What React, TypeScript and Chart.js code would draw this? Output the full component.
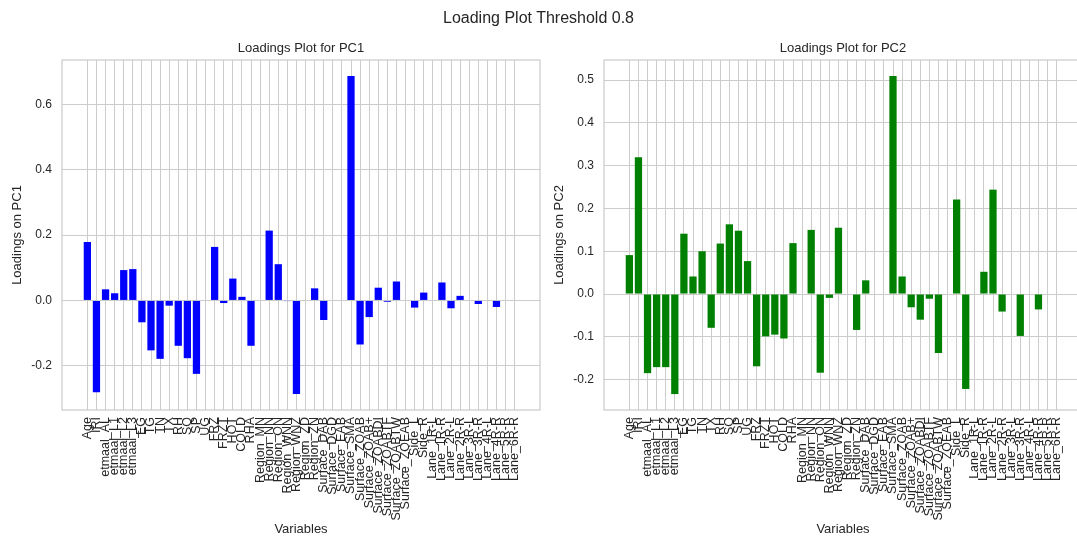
import React, { useEffect, useRef } from "react";
import { Chart, registerables } from "chart.js";

Chart.register(...registerables);

const VARIABLES: string[] = [
  "Age", "IRI", "etmaal_AL", "etmaal_L1", "etmaal_L2", "etmaal_L3",
  "EG", "TG", "TN", "TX", "RH", "SQ", "SP", "UG", "FRZ", "FRZT", "HOT", "COLD", "RHA",
  "Region_MN", "Region_NN", "Region_ON", "Region_WNN", "Region_WNZ", "Region_ZD", "Region_ZN",
  "Surface_DAB", "Surface_DGD", "Surface_EAB", "Surface_SMA", "Surface_ZOAB", "Surface_ZOAB+",
  "Surface_ZOABDI", "Surface_ZOABTF", "Surface_ZOABTW", "Surface_ZOEAB",
  "Side_L", "Side_R",
  "Lane_1R-L", "Lane_1R-R", "Lane_2R-L", "Lane_2R-R", "Lane_3R-L", "Lane_3R-R",
  "Lane_4R-L", "Lane_4R-R", "Lane_5R-R", "Lane_6R-R",
];

const PC1_LOADINGS: number[] = [
  0.179, -0.281, 0.034, 0.022, 0.093, 0.096,
  -0.067, -0.153, -0.179, -0.016, -0.139, -0.177, -0.225, 0.0, 0.164, -0.008, 0.067, 0.011, -0.139,
  0.0, 0.214, 0.111, -0.002, -0.287, 0.0, 0.037,
  -0.06, 0.0, 0.0, 0.688, -0.135, -0.051,
  0.039, -0.004, 0.058, 0.0,
  -0.022, 0.024,
  0.0, 0.055, -0.024, 0.014, 0.0, -0.011,
  0.0, -0.02, 0.0, 0.0,
];

const PC2_LOADINGS: number[] = [
  0.091, 0.32, -0.185, -0.171, -0.171, -0.234,
  0.141, 0.041, 0.1, -0.079, 0.118, 0.163, 0.148, 0.077, -0.169, -0.099, -0.095, -0.104, 0.119,
  0.0, 0.15, -0.184, -0.009, 0.155, 0.0, -0.084,
  0.032, 0.0, 0.0, 0.51, 0.041, -0.031,
  -0.06, -0.011, -0.138, 0.0,
  0.221, -0.222,
  0.0, 0.052, 0.244, -0.041, 0.0, -0.098,
  0.0, -0.036, 0.0, 0.0,
];

const PC1_TICKS: number[] = [-0.2, 0.0, 0.2, 0.4, 0.6];
const PC2_TICKS: number[] = [-0.2, -0.1, 0.0, 0.1, 0.2, 0.3, 0.4, 0.5];

const FONT = "'Liberation Sans', Arial, Helvetica, sans-serif";
const TEXT = "#262626";
const GRID = "#cccccc";

const spinesPlugin = {
  id: "spines",
  afterDraw(chart: any) {
    const { ctx, chartArea } = chart;
    ctx.save();
    ctx.strokeStyle = GRID;
    ctx.lineWidth = 1.25;
    ctx.strokeRect(chartArea.left, chartArea.top, chartArea.right - chartArea.left, chartArea.bottom - chartArea.top);
    ctx.restore();
  },
};

function makeConfig(values: number[], color: string, yTitle: string, yTicks: number[]): any {
  const n = values.length;
  const xSpan = n - 1 + 0.8;
  const xMin = -0.4 - 0.05 * xSpan;
  const xMax = n - 1 + 0.4 + 0.05 * xSpan;
  const dMin = Math.min(0, ...values);
  const dMax = Math.max(0, ...values);
  const ySpan = dMax - dMin;
  return {
    type: "bar",
    data: {
      datasets: [
        {
          data: values.map((v, i) => ({ x: i, y: v })),
          backgroundColor: color,
          borderWidth: 0,
          barPercentage: 0.8,
          categoryPercentage: 1,
        },
      ],
    },
    options: {
      animation: false,
      responsive: false,
      devicePixelRatio: 1,
      layout: { padding: { top: 60, right: 20, left: 0, bottom: 0 } },
      plugins: { legend: { display: false }, tooltip: { enabled: false }, title: { display: false } },
      scales: {
        x: {
          type: "linear",
          min: xMin,
          max: xMax,
          offset: false,
          afterBuildTicks: (s: any) => {
            s.ticks = VARIABLES.map((_, i) => ({ value: i }));
          },
          afterFit: (s: any) => {
            s.height = 127;
          },
          ticks: {
            autoSkip: false,
            maxRotation: 90,
            minRotation: 90,
            padding: 7,
            color: TEXT,
            font: { family: FONT, size: 12.5 },
            callback: (v: any) => VARIABLES[v as number] ?? "",
          },
          grid: { color: GRID, lineWidth: 1, drawTicks: false, offset: false },
          border: { display: false },
          title: {
            display: true,
            text: "Variables",
            color: TEXT,
            font: { family: FONT, size: 13 },
            padding: { top: 0, bottom: 0 },
          },
        },
        y: {
          type: "linear",
          min: dMin - 0.05 * ySpan,
          max: dMax + 0.05 * ySpan,
          afterBuildTicks: (s: any) => {
            s.ticks = yTicks.map((v) => ({ value: v }));
          },
          afterFit: (s: any) => {
            s.width = 62;
          },
          ticks: {
            padding: 10,
            color: TEXT,
            font: { family: FONT, size: 12 },
            callback: (v: any) => Number(v).toFixed(1),
          },
          grid: { color: GRID, lineWidth: 1, drawTicks: false },
          border: { display: false },
          title: {
            display: true,
            text: yTitle,
            color: TEXT,
            font: { family: FONT, size: 13 },
            padding: { top: 10, bottom: 0 },
          },
        },
      },
    },
    plugins: [spinesPlugin],
  };
}

function BarPanel(props: { values: number[]; color: string; yTitle: string; yTicks: number[]; left: number }) {
  const ref = useRef<HTMLCanvasElement | null>(null);
  useEffect(() => {
    if (!ref.current) return;
    const chart = new Chart(ref.current, makeConfig(props.values, props.color, props.yTitle, props.yTicks));
    return () => chart.destroy();
  }, []);
  return (
    <canvas
      ref={ref}
      width={560}
      height={537}
      style={{ position: "absolute", left: props.left, top: 0, width: 560, height: 537 }}
    />
  );
}

const titleStyle: React.CSSProperties = {
  position: "absolute",
  textAlign: "center",
  fontFamily: FONT,
  color: TEXT,
  whiteSpace: "nowrap",
};

export default function App() {
  return (
    <div
      style={{
        position: "fixed",
        left: 0,
        top: 0,
        width: 1077,
        height: 537,
        overflow: "hidden",
        background: "#ffffff",
      }}
    >
      <BarPanel values={PC1_LOADINGS} color="#0000ff" yTitle="Loadings on PC1" yTicks={PC1_TICKS} left={0} />
      <BarPanel values={PC2_LOADINGS} color="#008000" yTitle="Loadings on PC2" yTicks={PC2_TICKS} left={542} />
      <div style={{ ...titleStyle, left: 0, top: 8, width: 1077, fontSize: 16, lineHeight: "20px" }}>
        Loading Plot Threshold 0.8
      </div>
      <div style={{ ...titleStyle, left: 62, top: 40, width: 478, fontSize: 13, lineHeight: "16px" }}>
        Loadings Plot for PC1
      </div>
      <div style={{ ...titleStyle, left: 604, top: 40, width: 478, fontSize: 13, lineHeight: "16px" }}>
        Loadings Plot for PC2
      </div>
    </div>
  );
}
